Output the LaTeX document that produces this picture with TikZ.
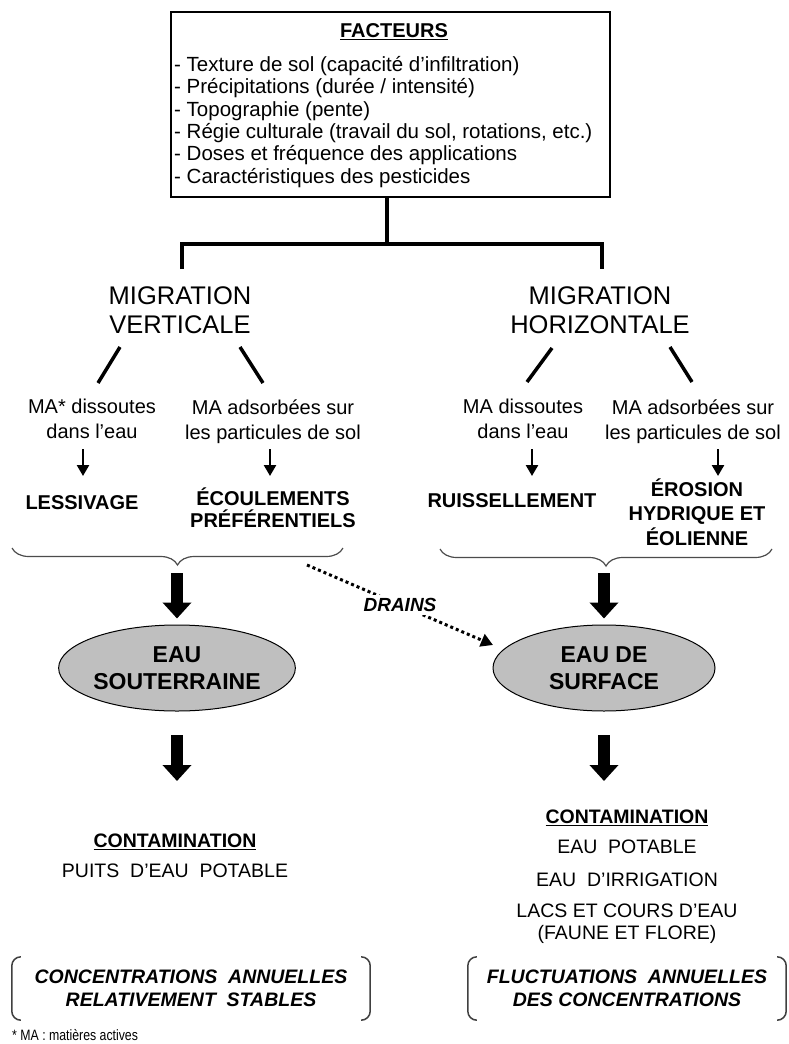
\documentclass[tikz,border=0pt]{standalone}
\usepackage{fontspec}
\setmainfont{Liberation Sans}
\newfontfamily\narrowfont[FakeStretch=0.82]{Liberation Sans}
\usetikzlibrary{arrows.meta,shapes.geometric,decorations.pathreplacing}
\newcommand{\fsz}[2]{\fontsize{#1}{#2}\selectfont}
\tikzset{
  conn/.style={line width=4},
  diag/.style={line width=3.5},
  txt/.style={align=center, inner sep=0, font=\fsz{20}{25}},
  lab/.style={align=center, inner sep=0, font=\bfseries\fsz{20}{22}},
  mig/.style={align=center, inner sep=0, font=\fsz{25.5}{29}},
  sarrow/.style={line width=2.5, -{Triangle[width=12pt,length=11pt]}},
  barrow/.style={line width=12, -{Triangle[width=28pt,length=16pt]}},
  brc/.style={decorate, decoration={brace, mirror, amplitude=17pt}, line width=1.2, draw=black!70},
  ell/.style={ellipse, draw, line width=1, fill=black!25, minimum width=222, minimum height=86, inner sep=0, align=center, font=\bfseries\fsz{23}{27}},
  dots/.style={line width=3, dash pattern=on 3pt off 3pt, -{Triangle[width=13pt,length=12pt]}},
  cont/.style={align=center, inner sep=0, font=\fsz{19.5}{22}},
  parbox/.style={align=center, inner sep=0, font=\bfseries\itshape\fsz{19.5}{22.5}},
  paren/.style={line width=1.5, draw=black!75, rounded corners=9}
}
\begin{document}
\begin{tikzpicture}[x=1pt,y=-1pt]
\fill[white] (0,0) rectangle (788,1044);
\useasboundingbox (0,0) rectangle (788,1044);

% FACTEURS box
\node[draw, line width=1.8, minimum width=439, minimum height=185, inner sep=0] (fbox) at (390.5,104.5) {};
\node[inner sep=0, font=\bfseries\fsz{20}{24}] (ftitle) at (394,32) {\underline{FACTEURS}};
\node[anchor=west, align=left, inner sep=0, font=\fsz{20.5}{22.3}] (flist) at (174,122) {%
- Texture de sol (capacité d'infiltration)\\
- Précipitations (durée / intensité)\\
- Topographie (pente)\\
- Régie culturale (travail du sol, rotations, etc.)\\
- Doses et fréquence des applications\\
- Caractéristiques des pesticides};

% junction
\coordinate (j) at (387,244);
\coordinate (jl) at (182,244);
\coordinate (jr) at (602,244);
\coordinate (jl2) at (182,269);
\coordinate (jr2) at (602,269);
\draw[conn] (fbox.south -| j) -- (j);
\draw[conn] (jl2) -- (jl) -- (jr) -- (jr2);

% migration titles
\node[mig] (mv) at (180,310) {MIGRATION\\VERTICALE};
\node[mig] (mh) at (600,310) {MIGRATION\\HORIZONTALE};

% diagonals
\coordinate (a1) at (120,347); \coordinate (b1) at (98,383);
\coordinate (a2) at (240,347); \coordinate (b2) at (263,383);
\coordinate (a3) at (552,348); \coordinate (b3) at (527,382);
\coordinate (a4) at (670,347); \coordinate (b4) at (692,382);
\draw[diag] (a1) -- (b1);
\draw[diag] (a2) -- (b2);
\draw[diag] (a3) -- (b3);
\draw[diag] (a4) -- (b4);

% sub texts
\node[txt] (s1) at (92,419) {MA* dissoutes\\dans l'eau};
\node[txt] (s2) at (273,422) {MA adsorbées sur\\les particules de sol};
\node[txt] (s3) at (523,419) {MA dissoutes\\dans l'eau};
\node[txt] (s4) at (693,422) {MA adsorbées sur\\les particules de sol};

% small arrows
\coordinate (p1) at (83,449); \coordinate (q1) at (83,476);
\coordinate (p2) at (270,449); \coordinate (q2) at (270,476);
\coordinate (p3) at (532,449); \coordinate (q3) at (532,476);
\coordinate (p4) at (718,449); \coordinate (q4) at (718,476);
\draw[sarrow] (p1) -- (q1);
\draw[sarrow] (p2) -- (q2);
\draw[sarrow] (p3) -- (q3);
\draw[sarrow] (p4) -- (q4);

% process labels
\node[lab] (l1) at (82,503) {LESSIVAGE};
\node[lab] (l2) at (273,508) {ÉCOULEMENTS\\PRÉFÉRENTIELS};
\node[lab, font=\bfseries\fsz{20}{24.5}] (l3) at (512,501) {RUISSELLEMENT};
\node[lab, font=\bfseries\fsz{20}{24.5}] (l4) at (697,512) {ÉROSION\\HYDRIQUE ET\\ÉOLIENNE};

% braces
\draw[brc] (12,548) -- (343,548);
\draw[brc] (440,549) -- (772,549);
\coordinate (bt1) at (177,566);
\coordinate (bt2) at (605,566);

% ellipses
\node[ell] (eso) at (177,668) {EAU\\SOUTERRAINE};
\node[ell] (esu) at (604,668) {EAU DE\\SURFACE};

\draw[barrow, shorten <=7pt, shorten >=6pt] (bt1) -- (eso.north);
\draw[barrow, shorten <=7pt, shorten >=6pt] (bt2 -| esu) -- (esu.north);

% drains
\coordinate (d1) at (307,565);
\coordinate (d2) at (493,645);
\draw[dots] (d1) -- node[fill=white, inner sep=3pt, font=\bfseries\itshape\fsz{19}{21}] (dr) {DRAINS} (d2);

% lower arrows
\coordinate (e1) at (177,735); \coordinate (f1) at (177,781);
\coordinate (e2) at (604,735); \coordinate (f2) at (604,781);
\draw[barrow] (e1) -- (f1);
\draw[barrow] (e2) -- (f2);

% contamination
\node[cont, font=\bfseries\fsz{19.5}{22}] (cl) at (175,842) {\underline{CONTAMINATION}};
\node[cont] (pl) at (175,871) {PUITS\ \ D'EAU\ \ POTABLE};
\node[cont, font=\bfseries\fsz{19.5}{22}] (cr) at (627,818) {\underline{CONTAMINATION}};
\node[cont] (r1) at (627,847) {EAU\ \ POTABLE};
\node[cont] (r2) at (627,880) {EAU\ \ D'IRRIGATION};
\node[cont] (r3) at (627,924) {LACS ET COURS D'EAU\\(FAUNE ET FLORE)};

% bottom bracketed boxes
\node[parbox, minimum width=358, minimum height=63] (lb) at (191,988.5) {CONCENTRATIONS\ \ ANNUELLES\\RELATIVEMENT\ \ STABLES};
\node[parbox, minimum width=318, minimum height=63] (rb) at (627,988.5) {FLUCTUATIONS\ \ ANNUELLES\\DES CONCENTRATIONS};
\draw[paren] ([xshift=8]lb.north west) -- (lb.north west) -- (lb.south west) -- ([xshift=8]lb.south west);
\draw[paren] ([xshift=-8]lb.north east) -- (lb.north east) -- (lb.south east) -- ([xshift=-8]lb.south east);
\draw[paren] ([xshift=8]rb.north west) -- (rb.north west) -- (rb.south west) -- ([xshift=8]rb.south west);
\draw[paren] ([xshift=-8]rb.north east) -- (rb.north east) -- (rb.south east) -- ([xshift=-8]rb.south east);

% footnote
\node[anchor=west, inner sep=0, font=\narrowfont\fsz{15}{17}] (fn) at (12,1035) {* MA : matières actives};
\end{tikzpicture}
\end{document}
